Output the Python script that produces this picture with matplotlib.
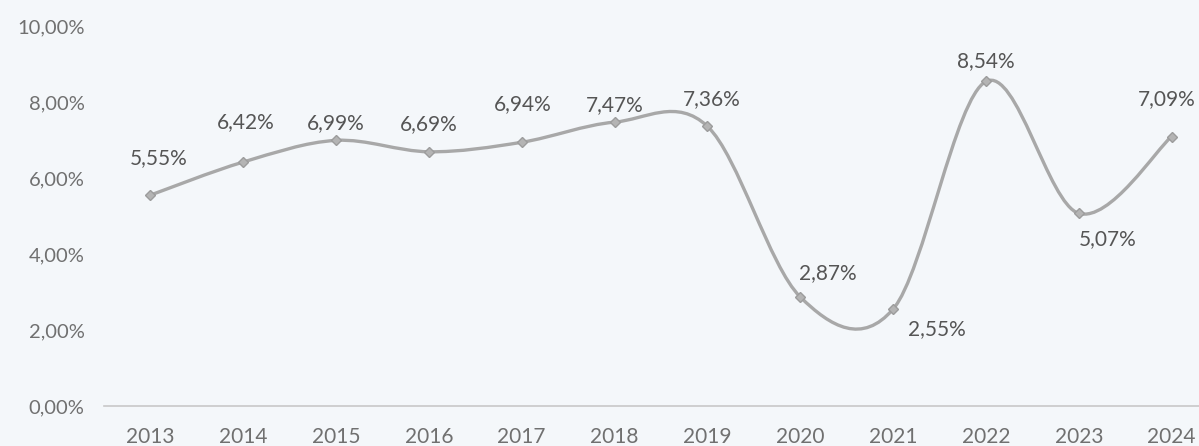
import matplotlib
matplotlib.use("Agg")
import matplotlib.pyplot as plt
from matplotlib.path import Path
from matplotlib.patches import PathPatch
import numpy as np

years = ['2013', '2014', '2015', '2016', '2017', '2018', '2019',
         '2020', '2021', '2022', '2023', '2024']
rates = [5.55, 6.42, 6.99, 6.69, 6.94, 7.47, 7.36, 2.87, 2.55, 8.54, 5.07, 7.09]
labels = ['5,55%', '6,42%', '6,99%', '6,69%', '6,94%', '7,47%', '7,36%',
          '2,87%', '2,55%', '8,54%', '5,07%', '7,09%']
yticks = [0, 2, 4, 6, 8, 10]
ytick_labels = ['0,00%', '2,00%', '4,00%', '6,00%', '8,00%', '10,00%']

# label offsets in pixels (dx, dy) from the point
offsets = [(8, 37), (2, 40), (0, 17), (0, 28), (1, 38), (0, 17), (4, 27),
           (28, 24), (44, -20), (0, 20), (29, -26), (-5, 37)]

bg = '#f4f7fa'
plt.rcParams['font.family'] = ['Lato', 'DejaVu Sans']

fig = plt.figure(figsize=(11.99, 4.46), dpi=100, facecolor=bg)
ax = fig.add_axes([104 / 1199, 40 / 446, 1114 / 1199, 380 / 446])
ax.set_facecolor(bg)

x = np.arange(len(years))
y = np.array(rates)

# smoothed line like Excel (Catmull-Rom as cubic Bezier segments)
px = np.concatenate([[x[0]], x, [x[-1]]])
py = np.concatenate([[y[0]], y, [y[-1]]])
verts = [(x[0], y[0])]
codes = [Path.MOVETO]
for i in range(1, len(px) - 2):
    c1 = (px[i] + (px[i + 1] - px[i - 1]) / 6, py[i] + (py[i + 1] - py[i - 1]) / 6)
    c2 = (px[i + 1] - (px[i + 2] - px[i]) / 6, py[i + 1] - (py[i + 2] - py[i]) / 6)
    verts += [c1, c2, (px[i + 1], py[i + 1])]
    codes += [Path.CURVE4] * 3
ax.add_patch(PathPatch(Path(verts, codes), fill=False, edgecolor='#a8a8a8',
                       lw=2.4, transform=ax.transData, zorder=2))

ax.plot(x, y, linestyle='none', marker='D', markersize=5.5,
        markerfacecolor='#b4b4b4', markeredgecolor='#9c9c9c', zorder=3)

for xi, yi, lab, (dx, dy) in zip(x, y, labels, offsets):
    ax.annotate(lab, (xi, yi), xytext=(dx, dy), textcoords='offset pixels',
                ha='center', va='center', fontsize=15, color='#555555')

ax.set_xlim(-0.5, len(years) - 0.5)
ax.set_ylim(0, 10)
ax.set_xticks(x)
ax.set_xticklabels(years)
ax.set_yticks(yticks)
ax.set_yticklabels(ytick_labels)
ax.tick_params(axis='both', length=0, labelcolor='#707070')
ax.tick_params(axis='y', pad=14, labelsize=14.5)
ax.tick_params(axis='x', pad=15, labelsize=15)

for s in ['top', 'right', 'left']:
    ax.spines[s].set_visible(False)
ax.spines['bottom'].set_color('#c8c8c8')
ax.spines['bottom'].set_linewidth(1.2)

fig.savefig('out.png', dpi=100, facecolor=bg)
